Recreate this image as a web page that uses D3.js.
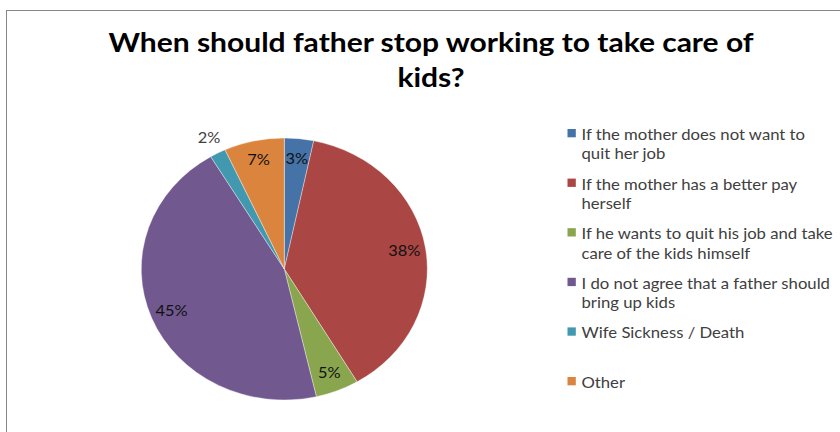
<!DOCTYPE html>
<html>
<head>
<meta charset="utf-8">
<script src="https://cdn.jsdelivr.net/npm/d3@7"></script>
<style>
  body { margin: 0; background: #fff; }
  svg { display: block; }
</style>
</head>
<body>
<div id="chart"></div>
<script>
var titleLines = ["When should father stop working to take care of", "kids?"];
var categories = [
  "If the mother does not want to quit her job",
  "If the mother has a better pay herself",
  "If he wants to quit his job and take care of the kids himself",
  "I do not agree that a father should bring up kids",
  "Wife Sickness / Death",
  "Other"
];
var legendLines = [
  ["If the mother does not want to", "quit her job"],
  ["If the mother has a better pay", "herself"],
  ["If he wants to quit his job and take", "care of the kids himself"],
  ["I do not agree that a father should", "bring up kids"],
  ["Wife Sickness / Death"],
  ["Other"]
];
var shares = [3.3, 38.2, 4.9, 45.0, 1.8, 6.8];
var colors = ["#4572A7", "#AA4643", "#89A54E", "#71588F", "#4198AF", "#DB843D"];

var width = 840, height = 432;
// the original picture is stretched a little horizontally
var sx = 143 / 131;

var svg = d3.select("#chart").append("svg")
    .attr("width", width)
    .attr("height", height);

svg.append("rect")
    .attr("x", 6.5).attr("y", 10.5)
    .attr("width", 860).attr("height", 460)
    .attr("fill", "#fff")
    .attr("stroke", "#868686")
    .attr("stroke-width", 1);

// title
svg.append("g")
    .selectAll("text")
    .data(titleLines)
    .enter().append("text")
      .attr("transform", function(d, i) { return "translate(431," + (51.5 + i * 35) + ") scale(" + sx + ",1)"; })
      .attr("text-anchor", "middle")
      .attr("font-family", "Lato, 'Open Sans', sans-serif")
      .attr("font-weight", "bold")
      .attr("font-size", 27.5)
      .attr("fill", "#000")
      .text(function(d) { return d; });

// pie
var cx = 284.3, cy = 269, ry = 131;

var pie = d3.pie().sort(null).value(function(d) { return d; });
var arcs = pie(shares);
var arc = d3.arc().innerRadius(0).outerRadius(ry);

var pieG = svg.append("g")
    .attr("transform", "translate(" + cx + "," + cy + ") scale(" + sx + ",1)");

pieG.selectAll("path")
    .data(arcs)
    .enter().append("path")
      .attr("d", arc)
      .attr("fill", function(d, i) { return colors[i]; })
      .attr("stroke", "#fff")
      .attr("stroke-width", 0.6)
      .attr("stroke-opacity", 0.6);

// labels: inside near the rim, tiny slices go outside
function labelPos(d) {
  var a = (d.startAngle + d.endAngle) / 2;
  var r = d.value < 2.5 ? ry * 1.13 : ry * 0.85;
  return [cx + Math.sin(a) * r * sx, cy - Math.cos(a) * r];
}

svg.append("g")
    .selectAll("text")
    .data(arcs)
    .enter().append("text")
      .attr("transform", function(d) { var p = labelPos(d); return "translate(" + p[0] + "," + p[1] + ") scale(" + sx + ",1)"; })
      .attr("dy", "0.35em")
      .attr("text-anchor", "middle")
      .attr("font-family", "Lato, 'Open Sans', sans-serif")
      .attr("font-size", 15)
      .attr("fill", function(d) { return d.value < 2.5 ? "#404040" : "#111"; })
      .text(function(d) { return Math.round(d.value) + "%"; });

// legend
var legend = svg.append("g")
    .attr("font-family", "Lato, 'Open Sans', sans-serif")
    .attr("font-size", 15.3)
    .attr("fill", "#404040")
  .selectAll("g")
  .data(legendLines)
  .enter().append("g")
    .attr("transform", function(d, i) { return "translate(567.5," + (140 + i * 49.6) + ")"; });

legend.append("rect")
    .attr("x", 0)
    .attr("y", -11)
    .attr("width", 8.3)
    .attr("height", 8.3)
    .attr("fill", function(d, i) { return colors[i]; });

legend.selectAll("text")
    .data(function(d) { return d; })
    .enter().append("text")
      .attr("transform", function(d, j) { return "translate(14," + (j * 19.3) + ") scale(" + sx + ",1)"; })
      .text(function(d) { return d; });
</script>
</body>
</html>
